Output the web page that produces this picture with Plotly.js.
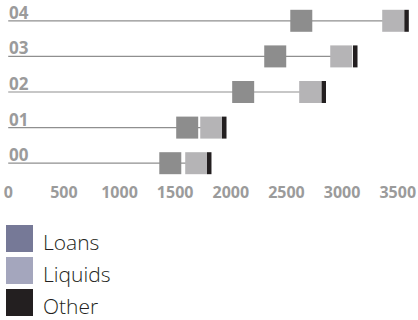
<!DOCTYPE html>
<html><head><meta charset="utf-8">
<script src="https://cdn.plot.ly/plotly-3.0.1.min.js"></script>
<style>html,body{margin:0;padding:0;background:#fff}#c{width:418px;height:320px}</style>
</head><body><div id="c"></div>
<script>
// Data
const years = ['00', '01', '02', '03', '04'];
const loans = [1456, 1608, 2111, 2399, 2633];
const liquids = [1689, 1824, 2713, 2992, 3459];
const other = [1806, 1941, 2835, 3118, 3579];
const xTicks = [0, 500, 1000, 1500, 2000, 2500, 3000, 3500];
const legendNames = ['Loans', 'Liquids', 'Other'];
const legendColors = ['#767997', '#a4a6bd', '#231f20'];

const W = 418, H = 320;
const M = {l: 8, r: 0, t: 3, b: 139};
const pw = W - M.l - M.r, ph = H - M.t - M.b;
const px = x => (x - M.l) / pw;
const py = y => (H - M.b - y) / ph;

// stem lines from 0 to the liquids marker
const lx = [], ly = [];
years.forEach((yr, i) => { lx.push(0, liquids[i], null); ly.push(yr, yr, null); });

const traces = [
  {type: 'scatter', mode: 'lines', x: lx, y: ly, line: {color: '#8f8f8f', width: 1.2}, hoverinfo: 'skip', showlegend: false},
  {type: 'scatter', mode: 'markers', name: 'Loans', x: loans, y: years, cliponaxis: false,
   marker: {symbol: 'square', size: 22, color: '#8d8d8d', line: {width: 0}}, showlegend: false},
  {type: 'scatter', mode: 'markers', name: 'Liquids', x: liquids, y: years, cliponaxis: false,
   marker: {symbol: 'square', size: 22, color: '#b5b4b6', line: {width: 0}}, showlegend: false},
  {type: 'scatter', mode: 'markers', name: 'Other', x: other, y: years, cliponaxis: false,
   marker: {symbol: 'line-ns', size: 15.7, color: '#231f20', line: {width: 4.5, color: '#231f20'}}, showlegend: false}
];

const shapes = [], annotations = [];
const sqTop = [225, 257, 289];
legendNames.forEach((n, i) => {
  shapes.push({type: 'rect', xref: 'paper', yref: 'paper', x0: px(6), x1: px(33), y0: py(sqTop[i] + 27), y1: py(sqTop[i]),
    fillcolor: legendColors[i], line: {width: 0}, layer: 'above'});
  annotations.push({xref: 'paper', yref: 'paper', x: px(41), y: py(sqTop[i] + 17), xanchor: 'left', yanchor: 'middle',
    text: n, showarrow: false, font: {family: 'Open Sans', size: 21, color: '#231f20', weight: 300}});
});
years.forEach(yr => {
  annotations.push({xref: 'paper', yref: 'y', x: 0, y: yr, xanchor: 'left', yanchor: 'bottom', yshift: -5, xshift: -1,
    text: yr, showarrow: false, font: {family: 'Open Sans', size: 17, color: '#9b9b9b', weight: 'bold'}});
});

const layout = {
  width: W, height: H, margin: M, paper_bgcolor: '#fff', plot_bgcolor: '#fff',
  showlegend: false,
  xaxis: {range: [-2, pw / 0.1113 - 2], tickvals: xTicks, ticktext: xTicks.map(String), showgrid: false, zeroline: false,
    showline: false, ticks: '', fixedrange: true,
    tickfont: {family: 'Open Sans', size: 16, color: '#9b9b9b', weight: 'bold'}},
  yaxis: {type: 'category', categoryarray: years, range: [-0.5, 4.5], showgrid: false, zeroline: false, showline: false,
    ticks: '', showticklabels: false},
  shapes: shapes, annotations: annotations
};
Plotly.newPlot('c', traces, layout, {staticPlot: true, displayModeBar: false});
</script></body></html>
